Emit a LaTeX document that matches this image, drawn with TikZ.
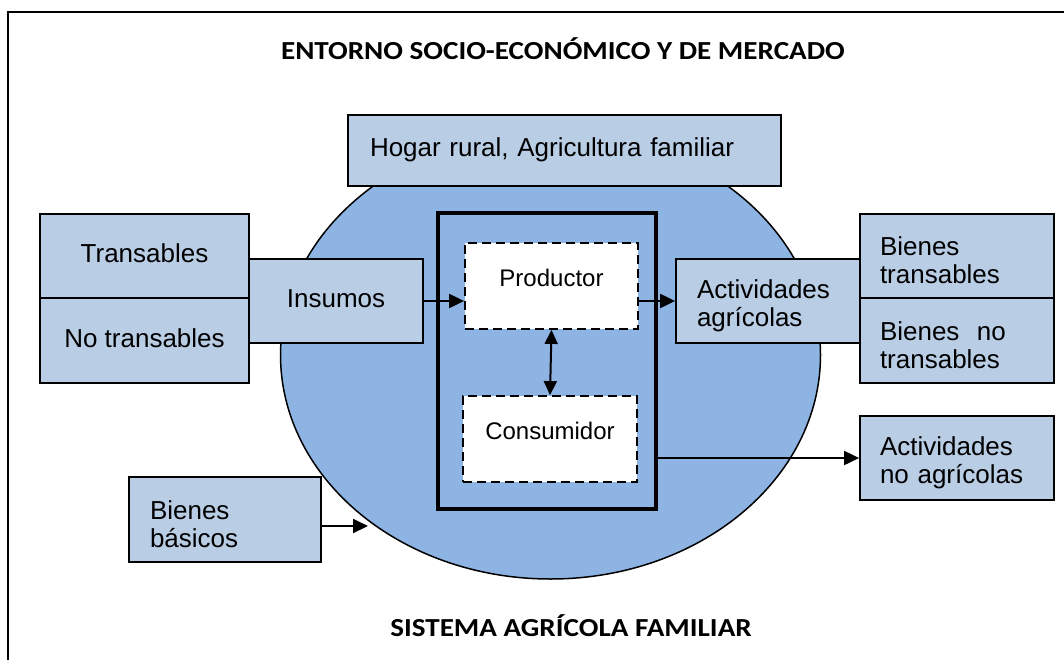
\documentclass[tikz,border=0pt]{standalone}
\usepackage{fontspec}
\setmainfont{Liberation Sans}
\newfontfamily\titlefont{Carlito}[FakeStretch=1.12]
\usetikzlibrary{arrows.meta}
\definecolor{boxfill}{RGB}{185,205,229}
\definecolor{ellfill}{RGB}{142,180,227}
\newcommand{\lowstrut}{\rule{0pt}{28pt}}
\begin{document}
\begin{tikzpicture}[x=1pt,y=-1pt,
  box/.style={draw=black, line width=1.8pt, fill=boxfill, inner sep=0pt, font=\fontsize{26}{28}\selectfont},
  oneline/.style={text height=19pt, text depth=6pt},
  leftbox/.style={align=left, inner ysep=0pt},
  dbox/.style={draw=black, dash pattern=on 9pt off 5pt, line width=1.8pt, fill=white, inner sep=0pt,
    font=\fontsize{24}{27}\selectfont, text height=43pt, text depth=43pt},
  bigbox/.style={draw=black, line width=3.5pt, inner sep=0pt},
  arr/.style={line width=2pt, -{Triangle[length=15pt,width=14pt]}},
  darr/.style={line width=2pt, {Triangle[length=14pt,width=13pt]}-{Triangle[length=14pt,width=13pt]}},
  ttl/.style={font=\titlefont\bfseries\fontsize{26}{30}\selectfont, text height=17pt, text depth=0pt, inner sep=0pt}]
\useasboundingbox (0,0) rectangle (1064,660);
\fill[white] (0,0) rectangle (1064,660);
\draw[line width=2pt] (8,660) -- (8,12) -- (1064,12);

\node[ttl] (title) at (563,51.5) {ENTORNO SOCIO-ECONÓMICO Y DE MERCADO};
\node[ttl] (subtitle) at (571,628) {SISTEMA AGRÍCOLA FAMILIAR};

% system ellipse
\draw[fill=ellfill, line width=1.5pt] (550.5,355) ellipse [x radius=270, y radius=224];

\node[box, leftbox, oneline, minimum height=71pt, text width=389pt, inner xsep=22pt] (hogar) at (564.5,150.5) {Hogar rural, Agricultura familiar};

\node[bigbox, minimum width=218pt, minimum height=296pt] (big) at (547,361) {};
\node[dbox, minimum width=173pt, minimum height=86pt] (prod) at (551.5,286) {Productor};
\node[dbox, minimum width=174pt, minimum height=86pt] (cons) at (550,439) {Consumidor};

\node[box, oneline, minimum width=209pt, minimum height=84pt] (trans) at (144.5,256) {Transables};
\node[box, oneline, minimum width=209pt, minimum height=85pt] (notrans) at (144.5,340.5) {No transables};
\node[box, oneline, minimum width=174pt, minimum height=84pt] (insumos) at (336,301) {Insumos};

\node[box, leftbox, minimum height=84pt, text width=142pt, inner xsep=21pt] (actagr) at (768,301) {\lowstrut Actividades\\agrícolas};
\node[box, leftbox, minimum height=84pt, text width=154pt, inner xsep=20pt] (bt) at (957,256) {\lowstrut Bienes\\transables};
\node[box, leftbox, minimum height=85pt, text width=154pt, inner xsep=20pt] (bnt) at (957,340.5) {\lowstrut Bienes\ \ no\\transables};
\node[box, leftbox, minimum height=84pt, text width=154pt, inner xsep=20pt] (actnoagr) at (957,458) {\lowstrut Actividades\\no agrícolas};
\node[box, leftbox, minimum height=85pt, text width=150pt, inner xsep=21pt] (bb) at (225,519.5) {\lowstrut Bienes\\básicos};

\draw[arr] (insumos.east) -- (insumos.east -| prod.west);
\draw[arr] (actagr.west -| prod.east) -- (actagr.west);
\draw[darr] (prod.south) -- (cons.north);
\draw[arr] (actnoagr.west -| big.east) -- (actnoagr.west);
\coordinate (bbtip) at (368,526);
\draw[arr] (bb.east |- bbtip) -- (bbtip);
\end{tikzpicture}
\end{document}
